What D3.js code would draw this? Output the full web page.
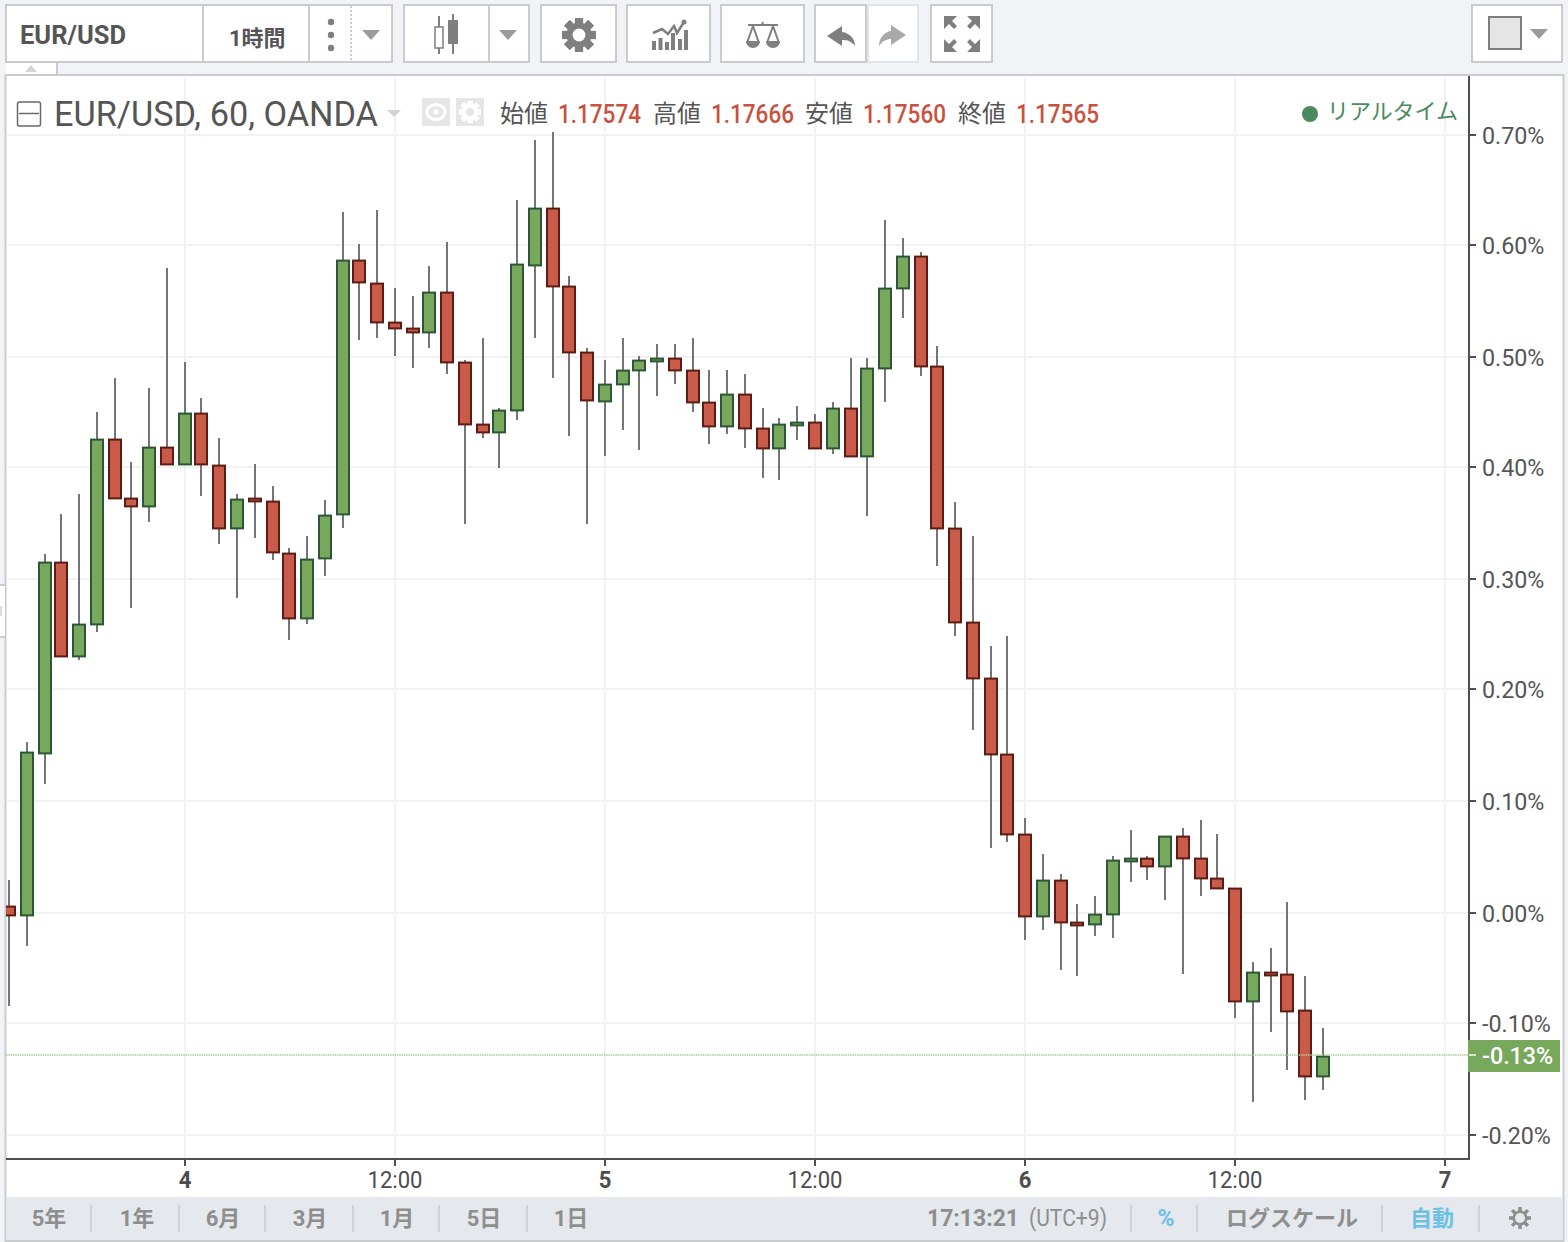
<!DOCTYPE html>
<html><head><meta charset="utf-8">
<script src="https://cdn.jsdelivr.net/npm/d3@7"></script>
<style>html,body{margin:0;padding:0;background:#f1f3f7;overflow:hidden}svg{display:block}text{font-family:Roboto,"Noto Sans CJK JP",sans-serif}</style>
</head><body><div id="c"></div>
<script>
const opens=[.0051,-.0021,.1437,.3147,.2310,.2598,.4254,.3723,.3660,.4182,.4038,.4488,.4020,.3462,.3723,.3696,.3228,.2652,.3192,.3588,.5865,.5658,.5307,.5253,.5226,.5577,.4947,.4389,.4326,.4524,.5829,.6333,.5631,.5037,.4605,.4758,.4884,.4965,.4983,.4875,.4587,.4380,.4659,.4353,.4182,.4389,.4407,.4182,.4533,.4110,.4902,.5622,.5901,.4911,.3453,.2607,.2103,.1419,.0699,-.0030,.0285,-.0093,-.0102,-.0012,.0465,.0483,.0420,.0681,.0483,.0303,.0213,-.0795,-.0543,-.0561,-.0885,-.1470];
const highs=[.0294,.1536,.3228,.3588,.3768,.4506,.4812,.4056,.4722,.5802,.4956,.4632,.4272,.3768,.4038,.3840,.3282,.3390,.3714,.6306,.6018,.6324,.5622,.5550,.5820,.6036,.4974,.5172,.4542,.6414,.6954,.7026,.5730,.5082,.4974,.5172,.5010,.5118,.5118,.5172,.4884,.4884,.4848,.4542,.4452,.4560,.4488,.4596,.4992,.4992,.6234,.6072,.5946,.5100,.3696,.3390,.2400,.2490,.0852,.0528,.0348,.0078,.0150,.0510,.0744,.0510,.0690,.0762,.0834,.0708,.0222,-.0444,-.0318,.0096,-.0570,-.1038];
const lows=[-.0840,-.0300,.1158,.2301,.2274,.2526,.3723,.2742,.3516,.4029,.4029,.3750,.3318,.2832,.3372,.3174,.2454,.2598,.3030,.3462,.5154,.5172,.5010,.4902,.5082,.4848,.3498,.4272,.4002,.4434,.5172,.4812,.4290,.3498,.4110,.4344,.4164,.4650,.4758,.4506,.4218,.4308,.4182,.3912,.3894,.4254,.4173,.4128,.4101,.3570,.4596,.5352,.4830,.3120,.2490,.1644,.0582,.0636,-.0246,-.0156,-.0516,-.0570,-.0210,-.0228,.0276,.0294,.0114,-.0552,.0150,.0213,-.0948,-.1704,-.1074,-.1416,-.1686,-.1596];
const closes=[-.0021,.1437,.3147,.2310,.2589,.4254,.3732,.3660,.4182,.4038,.4488,.4038,.3462,.3714,.3705,.3246,.2652,.3174,.3570,.5865,.5676,.5316,.5262,.5226,.5577,.4956,.4398,.4326,.4515,.5829,.6333,.5640,.5046,.4614,.4749,.4875,.4965,.4983,.4884,.4596,.4380,.4659,.4362,.4182,.4389,.4407,.4182,.4533,.4110,.4893,.5613,.5901,.4920,.3462,.2616,.2112,.1428,.0708,-.0030,.0285,-.0084,-.0111,-.0021,.0465,.0483,.0420,.0681,.0492,.0312,.0222,-.0795,-.0543,-.0561,-.0885,-.1470,-.1299];
const yTicks=[.7,.6,.5,.4,.3,.2,.1,0,-.1,-.2];
const xTickHours=[10,22,34,46,58,70,82];
const xTickLabels=["4","12:00","5","12:00","6","12:00","7"];
const lastValue=-.128;
const rangeLabels=["5年","1年","6月","3月","1月","5日","1日"];
const ohlcLabels=["始値","高値","安値","終値"];
const ohlcValues=["1.17574","1.17666","1.17560","1.17565"];

const W=1568,H=1242,plotR=1469,plotB=1159,plotL=6,plotT=76;
const gridC="#f2f2f2",axisC="#4f4f4f",boxC="#c9cbce",iconC="#7f7f7f";
const svg=d3.select("#c").append("svg").attr("width",W).attr("height",H);
const x=d3.scaleLinear().domain([0,82]).range([9.3,1445.53]);
const y=d3.scaleLinear().domain([-.2,.7]).range([1134.9,134.9]);
const sx=h=>2*Math.round((x(h)-1)/2)+1;
const sy=v=>Math.round(y(v));
const gy=v=>2*Math.floor((y(v)-.5)/2)+1;

// page + chart frame
svg.append("rect").attr("width",W).attr("height",H).attr("fill","#f1f3f7");
svg.append("rect").attr("x",5.5).attr("y",75).attr("width",1558).attr("height",1166).attr("fill","#fff").attr("stroke",boxC).attr("stroke-width",2);
// side tab
svg.append("path").attr("d","M0 585H5M0 637H5").attr("stroke",boxC).attr("stroke-width",2);
svg.append("rect").attr("x",0).attr("y",586).attr("width",5).attr("height",50).attr("fill","#fff");
svg.append("rect").attr("x",0).attr("y",606).attr("width",2).attr("height",10).attr("fill","#ddd");
// top tab
svg.append("rect").attr("x",6).attr("y",63).attr("width",51).attr("height",11).attr("fill","#fff");
svg.append("path").attr("d","M57 63V75").attr("stroke",boxC).attr("stroke-width",2);
svg.append("path").attr("d","M25 72L31 65L37 72Z").attr("fill","#d2d4d6");

// grid
const grid=svg.append("g").attr("shape-rendering","crispEdges").attr("stroke",gridC).attr("stroke-width",2);
grid.selectAll(".gy").data(yTicks).join("line").attr("x1",plotL+1).attr("x2",plotR).attr("y1",d=>gy(d)).attr("y2",d=>gy(d));
grid.selectAll(".gx").data(xTickHours).join("line").attr("x1",d=>sx(d)).attr("x2",d=>sx(d)).attr("y1",plotT+1).attr("y2",plotB);

// candles
svg.append("clipPath").attr("id","cp").append("rect").attr("x",plotL).attr("y",plotT).attr("width",plotR-plotL).attr("height",plotB-plotT);
const candles=d3.range(opens.length).map(i=>({i,o:opens[i],h:highs[i],l:lows[i],c:closes[i]}));
const plot=svg.append("g").attr("clip-path","url(#cp)");
const cg=plot.append("g");
cg.selectAll(".w").data(candles).join("line").attr("shape-rendering","crispEdges").attr("x1",d=>sx(d.i)).attr("x2",d=>sx(d.i)).attr("y1",d=>sy(d.h)).attr("y2",d=>sy(d.l)).attr("stroke","#757575").attr("stroke-width",2);
cg.selectAll(".b").data(candles).join("rect")
 .attr("x",d=>sx(d.i)-6).attr("width",12)
 .attr("y",d=>sy(Math.max(d.o,d.c))-.4)
 .attr("height",d=>Math.max(1,sy(Math.min(d.o,d.c))-sy(Math.max(d.o,d.c)))+.8)
 .attr("fill",d=>d.c>=d.o?"#77a85b":"#c95b4a")
 .attr("stroke",d=>d.c>=d.o?"#2d5537":"#5c1c14").attr("stroke-width",2);
// last price line
plot.append("line").attr("x1",plotL).attr("x2",plotR).attr("y1",y(lastValue)).attr("y2",y(lastValue)).attr("stroke","#a9cc94").attr("stroke-width",1.5).attr("stroke-dasharray","1.5 .8");

// axes
const fmt=d=>d.toFixed(2)+"%";
const ay=svg.append("g").attr("transform",`translate(${plotR},0)`).call(d3.axisRight(y).tickValues(yTicks).tickFormat(fmt).tickSize(7).tickPadding(6));
ay.select(".domain").remove();
ay.selectAll(".tick").attr("transform","");
ay.selectAll("line").attr("stroke",axisC).attr("stroke-width",2).attr("transform",d=>`translate(0,${gy(d)})`);
ay.selectAll("text").attr("x",13).attr("transform",d=>`translate(13,${gy(d)+1}) scale(.97,1) translate(-13,0)`).attr("font-size",24).attr("fill","#555").style("font-family",'Roboto,sans-serif');
const ax=svg.append("g").attr("transform",`translate(0,${plotB})`).call(d3.axisBottom(x).tickValues(xTickHours).tickFormat((d,i)=>xTickLabels[i]).tickSize(7).tickPadding(6));
ax.select(".domain").remove();
ax.selectAll(".tick").attr("transform",d=>`translate(${sx(d)},0)`);
ax.selectAll("line").attr("stroke",axisC).attr("stroke-width",2);
ax.selectAll("text").attr("x",0).attr("font-size",23).attr("fill","#4d4d4d").attr("font-weight",(d,i)=>i%2?400:700).style("font-family",'Roboto,sans-serif').attr("transform","scale(.96,1)");
svg.append("path").attr("d",`M${plotR} 76V${plotB+1}M6 ${plotB}H${plotR+1}`).attr("fill","none").attr("stroke",axisC).attr("stroke-width",2).attr("shape-rendering","crispEdges");

// last price label
const ly=Math.round(y(lastValue));
svg.append("rect").attr("x",plotR-1).attr("y",ly-15).attr("width",92).attr("height",32).attr("fill","#77a85b");
svg.append("line").attr("x1",plotR).attr("x2",plotR+7).attr("y1",ly).attr("y2",ly).attr("stroke","#d9e7cf").attr("stroke-width",2);
svg.append("text").attr("transform",`translate(1482,${ly+9}) scale(.97,1)`).attr("font-size",24).attr("font-weight",500).attr("fill","#fff").text(fmt(lastValue));

// legend
const T=(s,xx,yy,fs,col,w,anc)=>svg.append("text").attr("x",xx).attr("y",yy).attr("font-size",fs).attr("fill",col).attr("font-weight",w||400).attr("text-anchor",anc||"start").text(s);
svg.append("rect").attr("x",17.5).attr("y",102).attr("width",23).attr("height",24).attr("rx",2).attr("fill","none").attr("stroke","#6a6a6a").attr("stroke-width",1.5);
svg.append("path").attr("d","M19 113.5H39").attr("stroke","#6a6a6a").attr("stroke-width",1.5);
T("EUR/USD, 60, OANDA",54,126,35,"#555").attr("textLength",324).attr("lengthAdjust","spacingAndGlyphs");
svg.append("path").attr("d","M387 110H401L394 117Z").attr("fill","#cfd1d3");
svg.append("rect").attr("x",422).attr("y",98).attr("width",28).attr("height",28).attr("fill","#e6e6e6");
svg.append("rect").attr("x",456).attr("y",98).attr("width",28).attr("height",28).attr("fill","#e6e6e6");
svg.append("ellipse").attr("cx",436).attr("cy",112).attr("rx",9).attr("ry",7.5).attr("fill","none").attr("stroke","#fff").attr("stroke-width",3);
svg.append("circle").attr("cx",436).attr("cy",112).attr("r",2.5).attr("fill","#fff");
const gear=(cx,cy,r,col,hole,tw,bodyR,holeR)=>{const g=svg.append("g");
 d3.range(8).forEach(i=>{g.append("rect").attr("x",cx-r*(tw||.24)).attr("y",cy-r).attr("width",r*2*(tw||.24)).attr("height",r*2).attr("fill",col).attr("transform",`rotate(${i*45} ${cx} ${cy})`);});
 g.append("circle").attr("cx",cx).attr("cy",cy).attr("r",r*(bodyR||.74)).attr("fill",col);
 g.append("circle").attr("cx",cx).attr("cy",cy).attr("r",r*(holeR||.38)).attr("fill",hole);};
gear(470,112,11,"#fff","#e6e6e6");
const oxs=[[500,558],[653,711],[805,863],[958,1016]];
ohlcLabels.forEach((s,i)=>{T(s,oxs[i][0],122,24,"#555");T(ohlcValues[i],oxs[i][1],122.5,25,"#c8523f",500).attr("textLength",83).attr("lengthAdjust","spacingAndGlyphs");});
svg.append("circle").attr("cx",1310).attr("cy",114).attr("r",8).attr("fill","#4a8a5c");
T("リアルタイム",1327,119,22,"#4a8a5c").attr("textLength",131);

// toolbar boxes
const box=(x0,x1,c)=>svg.append("rect").attr("x",x0+1).attr("y",5).attr("width",x1-x0-2).attr("height",57).attr("fill","#fff").attr("stroke",c||boxC).attr("stroke-width",2);
const tri=(cx,cy,col)=>svg.append("path").attr("d",`M${cx-9} ${cy-5}H${cx+9}L${cx} ${cy+5}Z`).attr("fill",col||"#9b9b9b");
box(5,393);
svg.append("path").attr("d","M203 5V62M309 5V62").attr("stroke",boxC).attr("stroke-width",2);
svg.append("path").attr("d","M351 6V61").attr("stroke","#bbb").attr("stroke-width",1.5).attr("stroke-dasharray","2 2");
T("EUR/USD",20,44,26,"#555",700).style("font-family","Roboto").attr("textLength",106).attr("lengthAdjust","spacingAndGlyphs");
T("1時間",229,46,22,"#555",700);
[22,35,48].forEach(v=>svg.append("circle").attr("cx",331).attr("cy",v).attr("r",3.2).attr("fill",iconC));
tri(371,35);
box(403,530);
svg.append("path").attr("d","M489 5V62").attr("stroke",boxC).attr("stroke-width",2);
svg.append("rect").attr("x",435).attr("y",27).attr("width",8).attr("height",21).attr("fill","#fff").attr("stroke",iconC).attr("stroke-width",1.5);
svg.append("path").attr("d","M439 16V27M439 48V54M453 14V20M453 44V54").attr("stroke",iconC).attr("stroke-width",2);
svg.append("rect").attr("x",448).attr("y",20).attr("width",10).attr("height",24).attr("fill",iconC);
tri(508,35);
box(540,617);gear(579,35,17,iconC,"#fff");
box(626,711);
[[652,41],[658.5,38],[665,42],[671,33],[678,39],[684,30]].forEach(d=>svg.append("rect").attr("x",d[0]).attr("y",d[1]).attr("width",4).attr("height",50-d[1]).attr("fill",iconC));
svg.append("path").attr("d","M653 33L662 29L668 34L674 26L677 33L684 22").attr("fill","none").attr("stroke",iconC).attr("stroke-width",2.5);
svg.append("circle").attr("cx",684).attr("cy",22).attr("r",2.5).attr("fill",iconC);
box(720,805);
svg.append("path").attr("d","M748 25H778M762 25L763 22M753 26L747 43M753 26L759 43M773 26L767 43M773 26L779 43").attr("fill","none").attr("stroke",iconC).attr("stroke-width",2);
svg.append("path").attr("d","M746 41H760A7 7 0 0 1 746 41ZM766 41H780A7 7 0 0 1 766 41Z").attr("fill",iconC);
box(867,919,"#e1e4ea");box(814,867);
svg.append("path").attr("d","M827 36L842 26V32C850 33 855 39 855 46C851 41 848 40 842 40V46Z").attr("fill",iconC);
svg.append("path").attr("d","M906 35L891 25V31C884 32 879 38 879 46C883 41 886 39 891 39V45Z").attr("fill","#a9a9a9");
box(930,993);
const arrows=[[944,16,1,1],[980,16,-1,1],[944,52,1,-1],[980,52,-1,-1]];
arrows.forEach(a=>{const[p,q,s,t]=a;svg.append("path").attr("d",`M${p} ${q}H${p+s*13}L${p+s*8} ${q+t*5}L${p+s*13} ${q+t*10}L${p+s*10} ${q+t*13}L${p+s*5} ${q+t*8}L${p} ${q+t*13}Z`).attr("fill",iconC);});
box(1471,1563);
svg.append("rect").attr("x",1489).attr("y",17).attr("width",32).attr("height",32).attr("fill","#e5e5e5").attr("stroke",iconC).attr("stroke-width",2);
tri(1539,34);

// bottom bar
svg.append("rect").attr("x",6).attr("y",1197).attr("width",1557).attr("height",43).attr("fill","#e5e8ed");
svg.append("path").attr("d","M6 1241H1564").attr("stroke",boxC).attr("stroke-width",2);
const rangeX=[49,137,223,310,397,484,571];
rangeLabels.forEach((s,i)=>T(s,rangeX[i],1226,22,"#8e8e8e",700,"middle"));
[91,179,265,353,439,527,1131,1197,1382,1479].forEach(v=>svg.append("line").attr("x1",v).attr("x2",v).attr("y1",1205).attr("y2",1232).attr("stroke","#cfd2d6").attr("stroke-width",2));
T("17:13:21",927,1226,23,"#8e8e8e",700).attr("textLength",92).attr("lengthAdjust","spacingAndGlyphs");
T("(UTC+9)",1029,1226,23,"#8e8e8e",400).attr("textLength",78).attr("lengthAdjust","spacingAndGlyphs");
T("%",1166,1226,23,"#6cc0e5",700,"middle");
T("ログスケール",1292,1226,22,"#8e8e8e",700,"middle");
T("自動",1432,1226,22,"#6cc0e5",700,"middle");
gear(1520,1218,11,"#8e8e8e","#e5e8ed",.14,.68,.46);
</script></body></html>
